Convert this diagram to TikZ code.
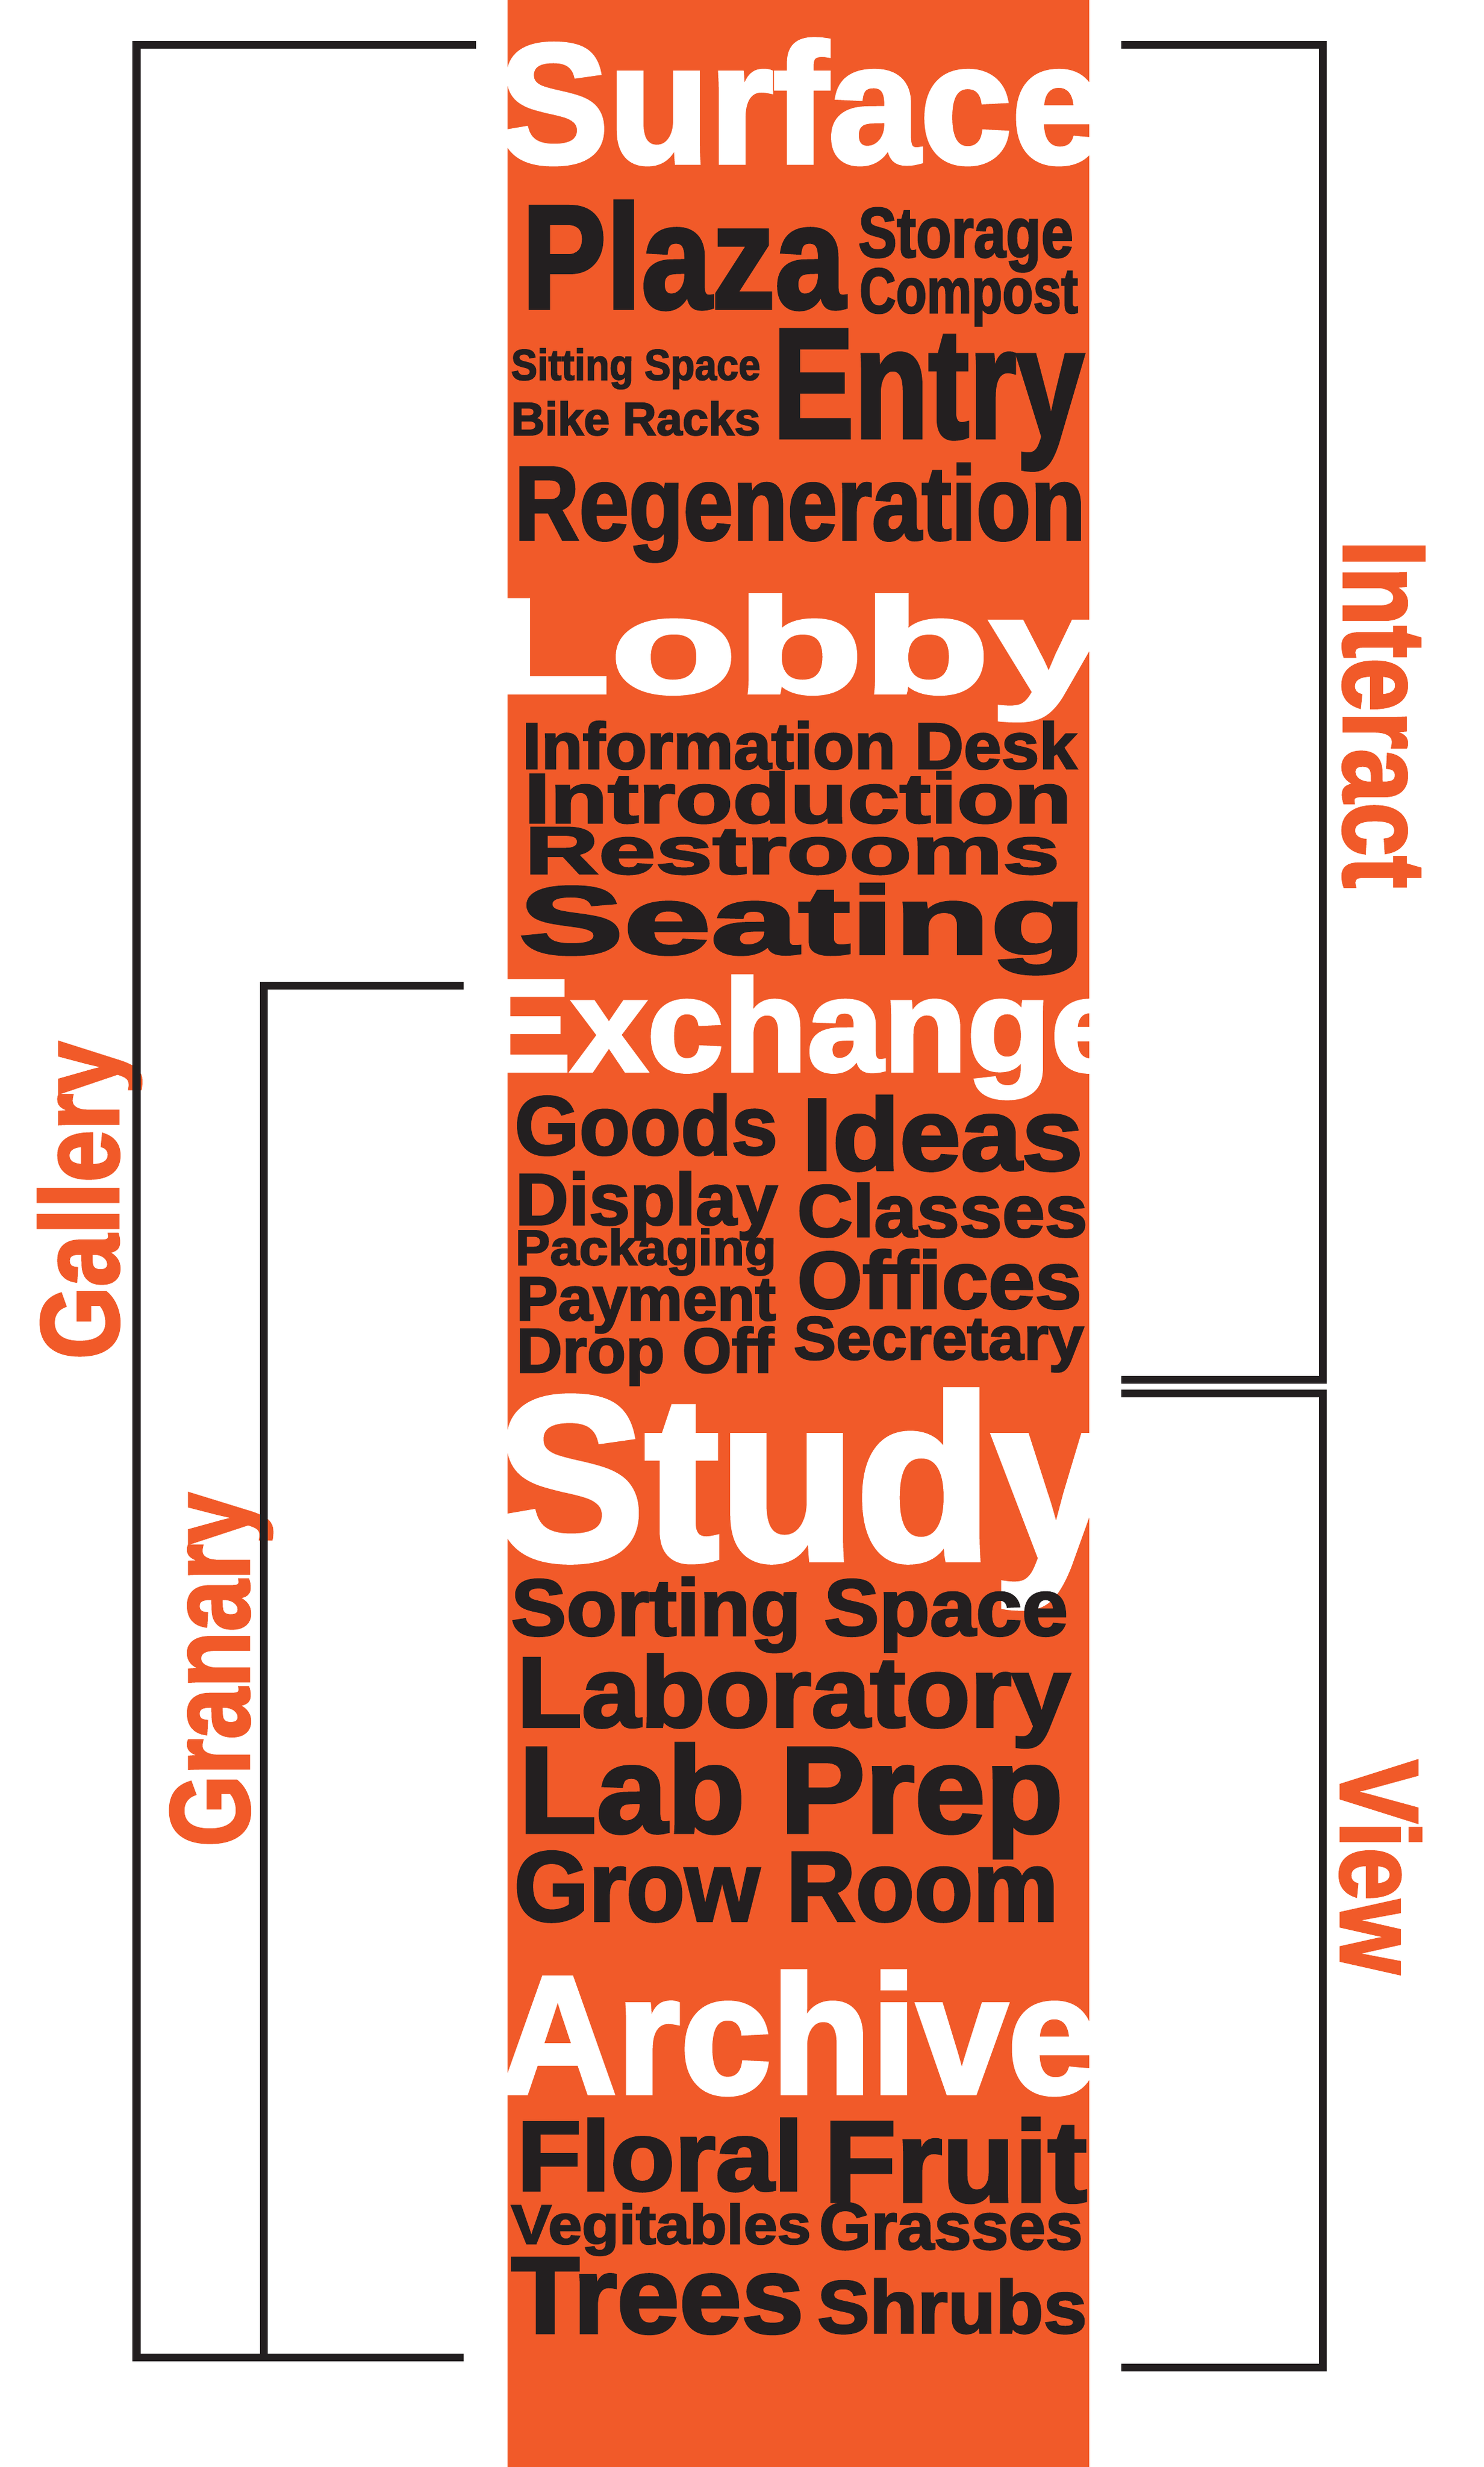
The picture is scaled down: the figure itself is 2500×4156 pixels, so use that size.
\documentclass[tikz,border=0pt]{standalone}
\usepackage{fontspec}
\usepackage{graphicx}
\newfontfamily\heavyfont{Liberation Sans}[FakeBold=2.5]
\definecolor{colorange}{HTML}{F15A29}
\definecolor{inkblack}{HTML}{231F20}
\newlength\pxu
\setlength\pxu{0.01cm}
\newcommand{\fitword}[3]{\resizebox{#1\pxu}{#2\pxu}{\heavyfont\bfseries #3}}
\begin{document}
\begin{tikzpicture}[x=0.01cm,y=-0.01cm,
    ink/.style={anchor=base west,inner sep=0pt,outer sep=0pt,text=inkblack},
    pale/.style={ink,text=white},
    tag/.style={ink,text=colorange},
    bracket/.style={draw=inkblack,line width=0.13cm,line join=miter}]
\useasboundingbox (0,0) rectangle (2500,4156);
\fill[colorange] (855,0) rectangle (1835,4156);

\node[pale] (surface) at (840,274) {\fitword{1018}{208}{Surface}};
\node[ink] (plaza) at (879,519) {\fitword{545}{180}{Plaza}};
\node[ink] (storage) at (1446,433) {\fitword{362}{83}{Storage}};
\node[ink] (compost) at (1448,527) {\fitword{368}{75}{Compost}};
\node[ink] (sitting) at (861,640) {\fitword{420}{53}{Sitting Space}};
\node[ink] (bikes) at (861,733) {\fitword{420}{57}{Bike Racks}};
\node[ink] (entry) at (1302,737) {\fitword{524}{181}{Entry}};
\node[ink] (regen) at (867,909) {\fitword{961}{128}{Regeneration}};

\node[pale] (lobby) at (815,1167) {\fitword{1045}{165}{Lobby}};
\node[ink] (infodesk) at (880,1295) {\fitword{934}{80}{Information Desk}};
\node[ink] (intro) at (883,1386) {\fitword{922}{86}{Introduction}};
\node[ink] (restrooms) at (884,1472) {\fitword{901}{78}{Restrooms}};
\node[ink] (seating) at (874,1607) {\fitword{955}{118}{Seating}};

\node[pale] (exchange) at (808,1804) {\fitword{1090}{160}{Exchange}};
\node[ink] (goods) at (867,1945) {\fitword{443}{102}{Goods}};
\node[ink] (ideas) at (1351,1971) {\fitword{473}{125}{Ideas}};
\node[ink] (display) at (868,2063) {\fitword{442}{89}{Display}};
\node[ink] (packaging) at (868,2131) {\fitword{440}{61}{Packaging}};
\node[ink] (payment) at (870,2224) {\fitword{437}{72}{Payment}};
\node[ink] (dropoff) at (870,2312) {\fitword{434}{77}{Drop Off}};
\node[ink] (classes) at (1343,2083) {\fitword{489}{90}{Classes}};
\node[ink] (offices) at (1343,2204) {\fitword{479}{99}{Offices}};
\node[ink] (secretary) at (1337,2290) {\fitword{489}{72}{Secretary}};

\node[pale] (study) at (835,2627) {\fitword{1045}{285}{Study}};
\node[ink] (sorting) at (861,2755) {\fitword{938}{98}{Sorting Space}};
\node[ink] (lab) at (871,2909) {\fitword{932}{122}{Laboratory}};
\node[ink] (labprep) at (874,3087) {\fitword{917}{150}{Lab Prep}};
\node[ink] (growroom) at (866,3236) {\fitword{917}{117}{Grow Room}};

\node[pale] (archive) at (840,3526) {\fitword{1010}{205}{Archive}};
\node[ink] (floral) at (871,3690) {\fitword{482}{121}{Floral}};
\node[ink] (fruit) at (1388,3709) {\fitword{443}{141}{Fruit}};
\node[ink] (vegitables) at (861,3780) {\fitword{505}{68}{Vegitables}};
\node[ink] (grasses) at (1380,3789) {\fitword{444}{78}{Grasses}};
\node[ink] (trees) at (861,3930) {\fitword{493}{126}{Trees}};
\node[ink] (shrubs) at (1377,3930) {\fitword{454}{91}{Shrubs}};

\node[tag,rotate=90] (gallery) at (199,2290) {\fitword{535}{135}{Gallery}};
\node[tag,rotate=90] (granary) at (419,3111) {\fitword{596}{132}{Granary}};
\node[tag,rotate=-90] (interact) at (2264,910) {\fitword{586}{135}{Interact}};
\node[tag,rotate=-90] (view) at (2259,2965) {\fitword{360}{135}{View}};

\coordinate (galleryhead) at (802,75);
\coordinate (gallerytop) at (230,75);
\coordinate (gallerybottom) at (230,3971);
\coordinate (galleryfoot) at (781,3971);
\coordinate (granaryhead) at (781,1660);
\coordinate (granarytop) at (444,1660);
\coordinate (granarybottom) at (444,3971);
\coordinate (interacthead) at (1889,75);
\coordinate (interacttop) at (2228,75);
\coordinate (interactbottom) at (2228,2324);
\coordinate (interactfoot) at (1889,2324);
\coordinate (viewhead) at (1889,2347);
\coordinate (viewtop) at (2228,2347);
\coordinate (viewbottom) at (2228,3988);
\coordinate (viewfoot) at (1889,3988);

\draw[bracket] (galleryhead) -- (gallerytop) -- (gallerybottom) -- (galleryfoot);
\draw[bracket] (granaryhead) -- (granarytop) -- (granarybottom);
\draw[bracket] (interacthead) -- (interacttop) -- (interactbottom) -- (interactfoot);
\draw[bracket] (viewhead) -- (viewtop) -- (viewbottom) -- (viewfoot);
\end{tikzpicture}
\end{document}
